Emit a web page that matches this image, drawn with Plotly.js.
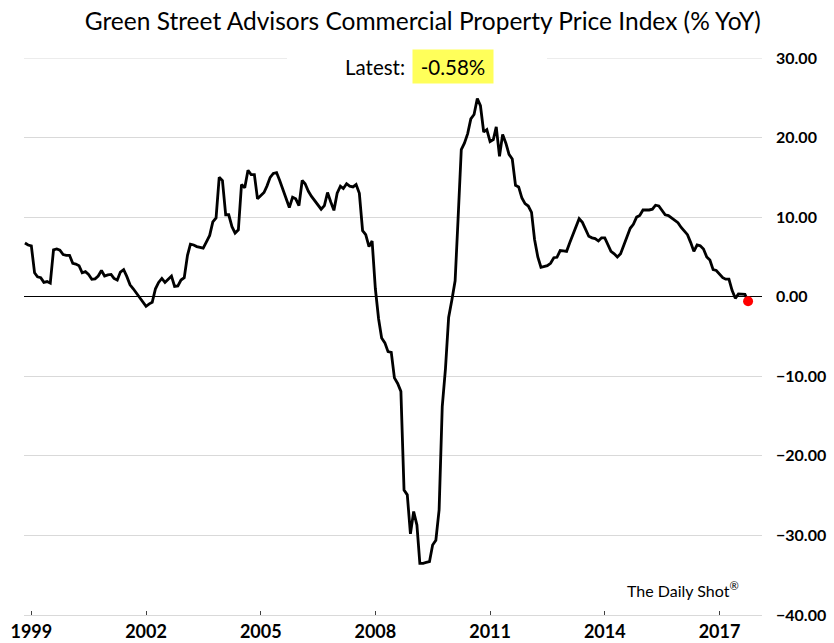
<!DOCTYPE html>
<html>
<head>
<meta charset="utf-8">
<script src="https://cdn.plot.ly/plotly-3.0.1.min.js"></script>
<style>html,body{margin:0;padding:0;background:#fff;}#chart{width:834px;height:643px;}</style>
</head>
<body>
<div id="chart"></div>
<script>
// Monthly series start (first observation month)
const startYear = 1998;
const startMonth = 11;

// % YoY values, monthly
const yoyValues = [
  6.75, 6.5, 6.4, 3.0, 2.5, 2.4, 1.8, 1.9, 1.7, 5.9, 6.0, 5.85,
  5.3, 5.2, 5.2, 4.2, 4.1, 3.9, 3.0, 3.15, 2.8, 2.2, 2.25, 2.6,
  3.3, 2.6, 2.75, 2.8, 2.3, 2.1, 3.1, 3.4, 2.55, 1.5, 1.0, 0.45,
  -0.05, -0.6, -1.2, -0.9, -0.7, 1.0, 1.8, 2.3, 1.8, 2.2, 2.6, 1.3,
  1.35, 2.1, 2.4, 5.2, 6.6, 6.5, 6.3, 6.2, 6.1, 6.9, 7.7, 9.4,
  9.9, 15.0, 14.6, 10.3, 10.3, 8.8, 8.0, 8.4, 14.1, 13.7, 15.9, 15.35,
  15.35, 12.3, 12.7, 13.1, 13.9, 15.0, 15.5, 15.6, 14.6, 13.4, 12.2, 11.2,
  12.5, 12.3, 11.45, 14.6, 14.2, 13.25, 12.6, 12.1, 11.6, 11.0, 11.45, 13.1,
  11.9, 10.85, 13.0, 13.9, 13.6, 14.2, 13.9, 13.8, 14.1, 13.0, 8.3, 7.8,
  6.3, 7.0, 1.0, -2.8, -5.2, -5.8, -6.9, -7.0, -10.2, -10.9, -11.9, -24.3,
  -24.9, -29.8, -27.0, -28.7, -33.5, -33.5, -33.4, -33.3, -31.2, -30.6, -26.8, -13.8,
  -9.0, -2.6, -0.4, 2.0, 9.7, 18.5, 19.3, 20.5, 22.35, 22.9, 24.9, 24.0,
  20.7, 21.0, 19.5, 19.75, 21.35, 17.65, 20.4, 19.3, 17.9, 17.3, 14.0, 13.8,
  12.4, 11.7, 11.4, 10.6, 7.2, 5.0, 3.7, 3.8, 3.9, 4.2, 4.9, 4.95,
  5.8, 5.75, 5.7, 6.8, 7.7, 8.8, 9.8, 9.35, 8.4, 7.6, 7.4, 7.3,
  7.0, 7.4, 7.4, 6.5, 5.7, 5.4, 5.0, 5.4, 6.4, 7.6, 8.6, 9.1,
  10.0, 10.2, 10.9, 10.9, 10.9, 11.0, 11.5, 11.4, 10.8, 10.3, 10.2, 9.9,
  9.6, 9.3, 8.7, 8.3, 7.8, 6.8, 5.7, 6.5, 6.4, 6.0, 5.0, 4.6,
  3.4, 3.3, 2.8, 2.4, 2.2, 2.2, 0.8, -0.2, 0.35, 0.35, 0.3, -0.58
];

// x-axis tick years and y-axis tick values
const tickYears = [1999, 2002, 2005, 2008, 2011, 2014, 2017];
const yTicks = [-40, -30, -20, -10, 0, 10, 20, 30];
const yMin = -40;
const yMax = 30;

const latestLabel = "-0.58%";
const titleText = "Green Street Advisors Commercial Property Price Index (% YoY)";
const sourceText = "The Daily Shot<sup>®</sup>";

// build monthly date categories
const dates = yoyValues.map((v, i) => {
  const k = (startMonth - 1) + i;
  const y = startYear + Math.floor(k / 12);
  const m = (k % 12) + 1;
  return y + "-" + String(m).padStart(2, "0") + "-01";
});

const lineTrace = {
  x: dates, y: yoyValues, type: "scatter", mode: "lines",
  line: {color: "#000000", width: 2.8}, hoverinfo: "skip", showlegend: false
};
const lastTrace = {
  x: [dates[dates.length - 1]], y: [yoyValues[yoyValues.length - 1]],
  type: "scatter", mode: "markers",
  marker: {color: "#ff0000", size: 10}, hoverinfo: "skip", showlegend: false
};

const layout = {
  width: 834, height: 643,
  margin: {l: 24, r: 72, t: 58, b: 28},
  paper_bgcolor: "#ffffff", plot_bgcolor: "#ffffff",
  font: {family: "Lato, sans-serif", color: "#000000"},
  title: {
    text: titleText, font: {family: "Lato, sans-serif", size: 24.5, color: "#000000"},
    xref: "container", x: 0.507, xanchor: "center",
    yref: "container", y: 1 - 21.5 / 643, yanchor: "middle"
  },
  showlegend: false,
  xaxis: {
    type: "date",
    range: ["1998-10-23", "2018-02-11"],
    tickvals: tickYears.map(y => y + "-01-01"),
    ticktext: tickYears.map(String),
    ticks: "inside", ticklen: 4, tickcolor: "#404040", tickwidth: 1,
    showline: true, linecolor: "#d9d9d9", linewidth: 1,
    showgrid: false, zeroline: false,
    tickfont: {family: "Lato, sans-serif", size: 18, color: "#000000", weight: "bold"}
  },
  yaxis: {
    side: "right",
    range: [yMin, yMax],
    tickvals: yTicks,
    tickformat: ".2f",
    showgrid: true, gridcolor: "#d9d9d9", gridwidth: 1,
    zeroline: true, zerolinecolor: "#000000", zerolinewidth: 1,
    showline: false, ticks: "",
    ticklabelstandoff: 13,
    tickfont: {family: "Lato, sans-serif", size: 16, color: "#000000", weight: "bold"}
  },
  shapes: [
    {
      type: "line", xref: "paper", yref: "y", layer: "below",
      x0: 0, x1: 1, y0: yMax, y1: yMax,
      line: {color: "#d9d9d9", width: 1}
    },
    {
      type: "rect", xref: "paper", yref: "paper", layer: "above",
      x0: (287 - 24) / 738, x1: (547 - 24) / 738,
      y0: (615 - 66) / 557, y1: (615 - 50) / 557,
      fillcolor: "#ffffff", line: {width: 0}
    }
  ],
  annotations: [
    {
      text: "Latest:", xref: "paper", yref: "paper",
      x: (407 - 24) / 738, y: (615 - 67) / 557, xanchor: "right", yanchor: "middle",
      showarrow: false, font: {family: "Lato, sans-serif", size: 20.5, color: "#000000"}
    },
    {
      text: latestLabel, xref: "paper", yref: "paper",
      x: (452.5 - 24) / 738, y: (615 - 66) / 557, xanchor: "center", yanchor: "middle",
      showarrow: false, bgcolor: "#ffff5a", width: 80, height: 33, borderpad: 0,
      font: {family: "Lato, sans-serif", size: 20.5, color: "#000000"}
    },
    {
      text: sourceText, xref: "paper", yref: "paper",
      x: (741 - 24) / 738, y: (615 - 589) / 557, xanchor: "right", yanchor: "middle",
      showarrow: false, font: {family: "Lato, sans-serif", size: 16, color: "#000000"}
    }
  ]
};

Plotly.newPlot("chart", [lineTrace, lastTrace], layout, {displayModeBar: false, staticPlot: true});
</script>
</body>
</html>
